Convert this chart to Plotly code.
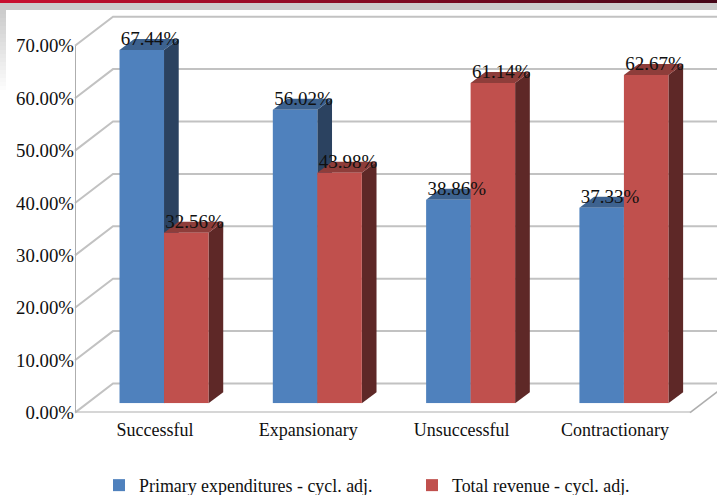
import plotly.graph_objects as go

categories = ["Successful", "Expansionary", "Unsuccessful", "Contractionary"]
primary_expenditures = [67.44, 56.02, 38.86, 37.33]
total_revenue = [32.56, 43.98, 61.14, 62.67]
y_ticks = [0, 10, 20, 30, 40, 50, 60, 70]
y_tick_labels = ["0.00%", "10.00%", "20.00%", "30.00%", "40.00%", "50.00%", "60.00%", "70.00%"]

BLUE, BLUE_SIDE, BLUE_TOP = "#4f81bd", "#2b4260", "#3d628f"
RED, RED_SIDE, RED_TOP = "#c0504d", "#5e2827", "#8e3d3a"
GRID = "#c2c2c2"
AXIS = "#aeaeae"
FONT = "Liberation Serif"
INK = "#101010"

# Pixel geometry of the chart box and its pseudo-3D depth
W, H = 717, 495
CAT_PX = 153.3
VAL_PX = 5.24
FRONT_LEFT, FRONT_RIGHT = 75.0, 690.0
FRONT_BASE = 412.6
BAR_SHIFT_X, BAR_SHIFT_Y = 9.0, 9.3
X0 = -0.522
X1 = X0 + (FRONT_RIGHT - FRONT_LEFT) / CAT_PX
FRONT_TOP = FRONT_BASE - VAL_PX * 70

WALL_DX, WALL_DY = 38.0 / CAT_PX, 29.1 / VAL_PX
BAR_DX, BAR_DY = 14.7 / CAT_PX, 11.0 / VAL_PX
SHIFT_DX, SHIFT_DY = BAR_SHIFT_X / CAT_PX, BAR_SHIFT_Y / VAL_PX
BAR_W = 44.5 / CAT_PX
LABEL_DX, LABEL_DY = 1.0 / CAT_PX, -1.5 / VAL_PX
positions = list(range(len(categories)))

fig = go.Figure()

# Left wall, back wall and the far edge of the floor, on canvas-wide axes
for tick in y_ticks:
    fig.add_trace(go.Scatter(
        x=[X0, X0 + WALL_DX, X1 + WALL_DX * 1.2],
        y=[tick, tick + WALL_DY, tick + WALL_DY],
        mode="lines", line=dict(color=GRID, width=2), hoverinfo="skip",
        showlegend=False, cliponaxis=False,
    ))
fig.add_trace(go.Scatter(
    x=[X1, X1 + WALL_DX], y=[0, WALL_DY],
    mode="lines", line=dict(color=AXIS, width=1.6), hoverinfo="skip",
    showlegend=False, cliponaxis=False,
))


def add_face(xs, ys, color):
    fig.add_trace(go.Scatter(
        x=xs, y=ys, mode="lines", fill="toself", fillcolor=color,
        line=dict(width=0), hoverinfo="skip", showlegend=False, cliponaxis=False,
    ))


# Side and top faces sit behind the front faces of the bars
for pos, blue, red in zip(positions, primary_expenditures, total_revenue):
    for left, value, side, top in (
        (pos - BAR_W, blue, BLUE_SIDE, BLUE_TOP),
        (pos, red, RED_SIDE, RED_TOP),
    ):
        right = left + BAR_W
        xl, xr = left + SHIFT_DX, right + SHIFT_DX
        yb, yt = SHIFT_DY, value + SHIFT_DY
        add_face([xr, xr + BAR_DX, xr + BAR_DX, xr, xr],
                 [yb, yb + BAR_DY, yt + BAR_DY, yt, yb], side)
        add_face([xl, xr, xr + BAR_DX, xl + BAR_DX, xl],
                 [yt, yt, yt + BAR_DY, yt + BAR_DY, yt], top)

# Front axis lines carry the tick labels
fig.add_trace(go.Scatter(
    x=[X0, X0, X1], y=[70, 0, 0], xaxis="x2", yaxis="y2",
    mode="lines", line=dict(color=AXIS, width=2), hoverinfo="skip",
    showlegend=False, cliponaxis=False,
))

# Front faces
fig.add_trace(go.Bar(
    x=positions, y=primary_expenditures, name="Primary expenditures - cycl. adj.",
    marker=dict(color=BLUE, line=dict(width=0)), xaxis="x3", yaxis="y3", legend="legend",
))
fig.add_trace(go.Bar(
    x=positions, y=total_revenue, name="Total revenue - cycl. adj.",
    marker=dict(color=RED, line=dict(width=0)), xaxis="x3", yaxis="y3", legend="legend2",
))

# Value labels above each bar's top face
for offset, values in ((-BAR_W / 2, primary_expenditures), (BAR_W / 2, total_revenue)):
    fig.add_trace(go.Scatter(
        x=[p + offset + BAR_DX / 2 + LABEL_DX for p in positions],
        y=[v + BAR_DY + LABEL_DY for v in values],
        text=[f"{v:.2f}%" for v in values],
        mode="text", textposition="middle center",
        textfont=dict(family=FONT, size=19, color=INK),
        xaxis="x3", yaxis="y3", showlegend=False, cliponaxis=False, hoverinfo="skip",
    ))

# Slide frame around the chart: dark-red strip, grey band, fading left edge
shapes = []


def px_rect(x0, y0, x1, y1, color):
    shapes.append(dict(
        type="rect", xref="paper", yref="paper", layer="below",
        x0=x0 / W, x1=x1 / W, y0=(H - y0) / H, y1=(H - y1) / H,
        fillcolor=color, line=dict(width=0),
    ))


px_rect(0, 3, W, 10, "#cccccc")
STRIP = 36
for i in range(STRIP):
    t = i / (STRIP - 1)
    r = int(200 + (70 - 200) * t)
    g = int(16 + (6 - 16) * t)
    b = int(48 + (24 - 48) * t)
    px_rect(W * i / STRIP, 0, W * (i + 1) / STRIP + 1, 3, f"rgb({r},{g},{b})")
FADE = 20
for i in range(FADE):
    t = i / FADE
    level = int(204 + (255 - 204) * t)
    px_rect(0, 10 + 4 * i, 6, 14 + 4 * i, f"rgb({level},{level},{level})")

legend_style = dict(
    orientation="h", xref="paper", yref="paper", yanchor="top", y=(H - 467) / H,
    xanchor="left", itemwidth=30, bgcolor="rgba(0,0,0,0)",
    font=dict(family=FONT, size=17.9, color=INK),
)

fig.update_layout(
    width=W, height=H,
    margin=dict(l=0, r=0, t=0, b=0, pad=0, autoexpand=False),
    paper_bgcolor="white", plot_bgcolor="rgba(0,0,0,0)",
    barmode="group", bargap=1 - 2 * BAR_W, bargroupgap=0,
    shapes=shapes,
    font=dict(family=FONT, size=18, color=INK),
    xaxis=dict(
        domain=[0, 1], anchor="y", visible=False,
        range=[X0 - FRONT_LEFT / CAT_PX, X0 + (W - FRONT_LEFT) / CAT_PX],
    ),
    yaxis=dict(
        domain=[0, 1], anchor="x", visible=False,
        range=[(FRONT_BASE - H) / VAL_PX, FRONT_BASE / VAL_PX],
    ),
    xaxis2=dict(
        domain=[FRONT_LEFT / W, FRONT_RIGHT / W], range=[X0, X1], anchor="y2",
        tickmode="array", tickvals=positions, ticktext=categories,
        showgrid=False, zeroline=False, showline=False, ticks="",
        ticklabelstandoff=4, tickfont=dict(family=FONT, size=18, color=INK),
    ),
    yaxis2=dict(
        domain=[(H - FRONT_BASE) / H, (H - FRONT_TOP) / H], range=[0, 70], anchor="x2",
        tickmode="array", tickvals=y_ticks, ticktext=y_tick_labels,
        showgrid=False, zeroline=False, showline=False, ticks="",
        tickfont=dict(family=FONT, size=18.8, color=INK),
    ),
    xaxis3=dict(
        domain=[(FRONT_LEFT + BAR_SHIFT_X) / W, (FRONT_RIGHT + BAR_SHIFT_X) / W],
        range=[X0, X1], anchor="y3", visible=False,
    ),
    yaxis3=dict(
        domain=[(H - FRONT_BASE + BAR_SHIFT_Y) / H, (H - FRONT_TOP + BAR_SHIFT_Y) / H],
        range=[0, 70], anchor="x3", visible=False,
    ),
    legend=dict(x=99 / W, **legend_style),
    legend2=dict(x=412 / W, **legend_style),
)

fig.write_html("out.html")
